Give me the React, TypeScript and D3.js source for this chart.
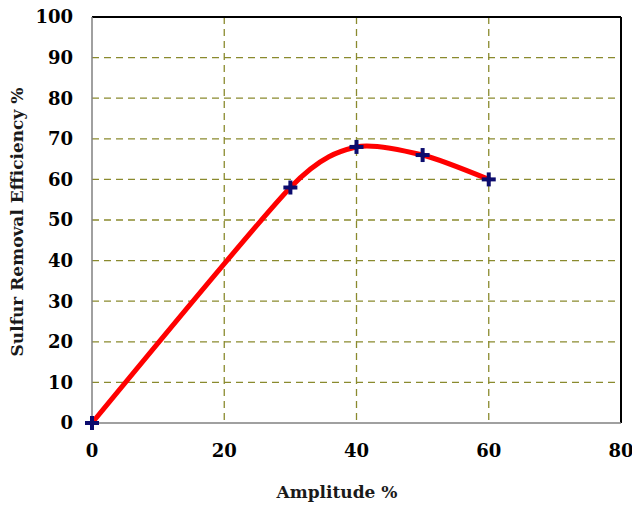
import { useEffect, useRef } from 'react'
import * as d3 from 'd3'

const amplitude = [0, 30, 40, 50, 60]
const efficiency = [0, 58, 68, 66, 60]
const xTicks = [0, 20, 40, 60, 80]
const yTicks = [0, 10, 20, 30, 40, 50, 60, 70, 80, 90, 100]

const W = 640
const H = 511
const FONT = '"DejaVu Serif", "Liberation Serif", serif'

export default function App() {
  const svgRef = useRef<SVGSVGElement>(null)

  useEffect(() => {
    if (!svgRef.current) return
    const svg = d3.select(svgRef.current)
    svg.selectAll('*').remove()

    const left = 92
    const right = 621
    const top = 17
    const bottom = 423

    const x = d3.scaleLinear().domain([0, 80]).range([left, right])
    const y = d3.scaleLinear().domain([0, 100]).range([bottom, top])

    svg.append('rect').attr('width', W).attr('height', H).attr('fill', '#fff')

    // grid
    const grid = svg.append('g').attr('stroke', '#8a8a2e').attr('stroke-width', 1.3).attr('stroke-dasharray', '7,5')
    yTicks.filter((t) => t > 0 && t < 100).forEach((t) => {
      grid.append('line').attr('x1', left).attr('x2', right).attr('y1', y(t)).attr('y2', y(t))
    })
    xTicks.filter((t) => t > 0 && t < 80).forEach((t) => {
      grid.append('line').attr('x1', x(t)).attr('x2', x(t)).attr('y1', top).attr('y2', bottom)
    })

    // frame
    svg.append('line').attr('x1', left).attr('x2', right).attr('y1', top).attr('y2', top).attr('stroke', '#000').attr('stroke-width', 2)
    svg.append('line').attr('x1', right).attr('x2', right).attr('y1', top).attr('y2', bottom).attr('stroke', '#000').attr('stroke-width', 2)
    svg.append('line').attr('x1', left).attr('x2', left).attr('y1', top).attr('y2', bottom).attr('stroke', '#808080').attr('stroke-width', 1.5)
    svg.append('line').attr('x1', left).attr('x2', right).attr('y1', bottom).attr('y2', bottom).attr('stroke', '#808080').attr('stroke-width', 1.5)

    // tick labels
    svg.append('g').selectAll('text').data(yTicks).enter().append('text')
      .attr('x', 73).attr('y', (d) => y(d)).attr('dy', '0.35em')
      .attr('text-anchor', 'end').attr('font-family', FONT).attr('font-weight', 'bold')
      .attr('font-size', 18).attr('fill', '#000').text((d) => d)

    svg.append('g').selectAll('text').data(xTicks).enter().append('text')
      .attr('x', (d) => x(d)).attr('y', 451).attr('dy', '0.35em')
      .attr('text-anchor', 'middle').attr('font-family', FONT).attr('font-weight', 'bold')
      .attr('font-size', 18).attr('fill', '#000').text((d) => d)

    // axis titles
    svg.append('text').attr('x', 337).attr('y', 492).attr('dy', '0.35em')
      .attr('text-anchor', 'middle').attr('font-family', FONT).attr('font-weight', 'bold')
      .attr('font-size', 17).attr('fill', '#1a1a1a').text('Amplitude %')

    svg.append('text').attr('transform', `translate(17,222) rotate(-90)`).attr('dy', '0.35em')
      .attr('text-anchor', 'middle').attr('font-family', FONT).attr('font-weight', 'bold')
      .attr('font-size', 17).attr('fill', '#1a1a1a').text('Sulfur Removal Efficiency %')

    const pts = amplitude.map((a, i) => [a, efficiency[i]] as [number, number])

    // smoothed line, close to Excel's smoothing
    const line = d3.line<[number, number]>()
      .x((d) => x(d[0])).y((d) => y(d[1]))
      .curve(d3.curveCardinal.tension(0.3))

    svg.append('path').datum(pts).attr('d', line).attr('fill', 'none')
      .attr('stroke', '#ff0000').attr('stroke-width', 5).attr('stroke-linecap', 'round')

    // plus markers
    svg.append('g').selectAll('g').data(pts).enter().append('g')
      .attr('transform', (d) => `translate(${x(d[0])},${y(d[1])})`)
      .each(function () {
        const g = d3.select(this)
        g.append('line').attr('x1', -7).attr('x2', 7).attr('stroke', '#0c0c6e').attr('stroke-width', 4)
        g.append('line').attr('y1', -7).attr('y2', 7).attr('stroke', '#0c0c6e').attr('stroke-width', 4)
      })
  }, [])

  return (
    <svg ref={svgRef} width={W} height={H} style={{ display: 'block', margin: -8 }} />
  )
}
